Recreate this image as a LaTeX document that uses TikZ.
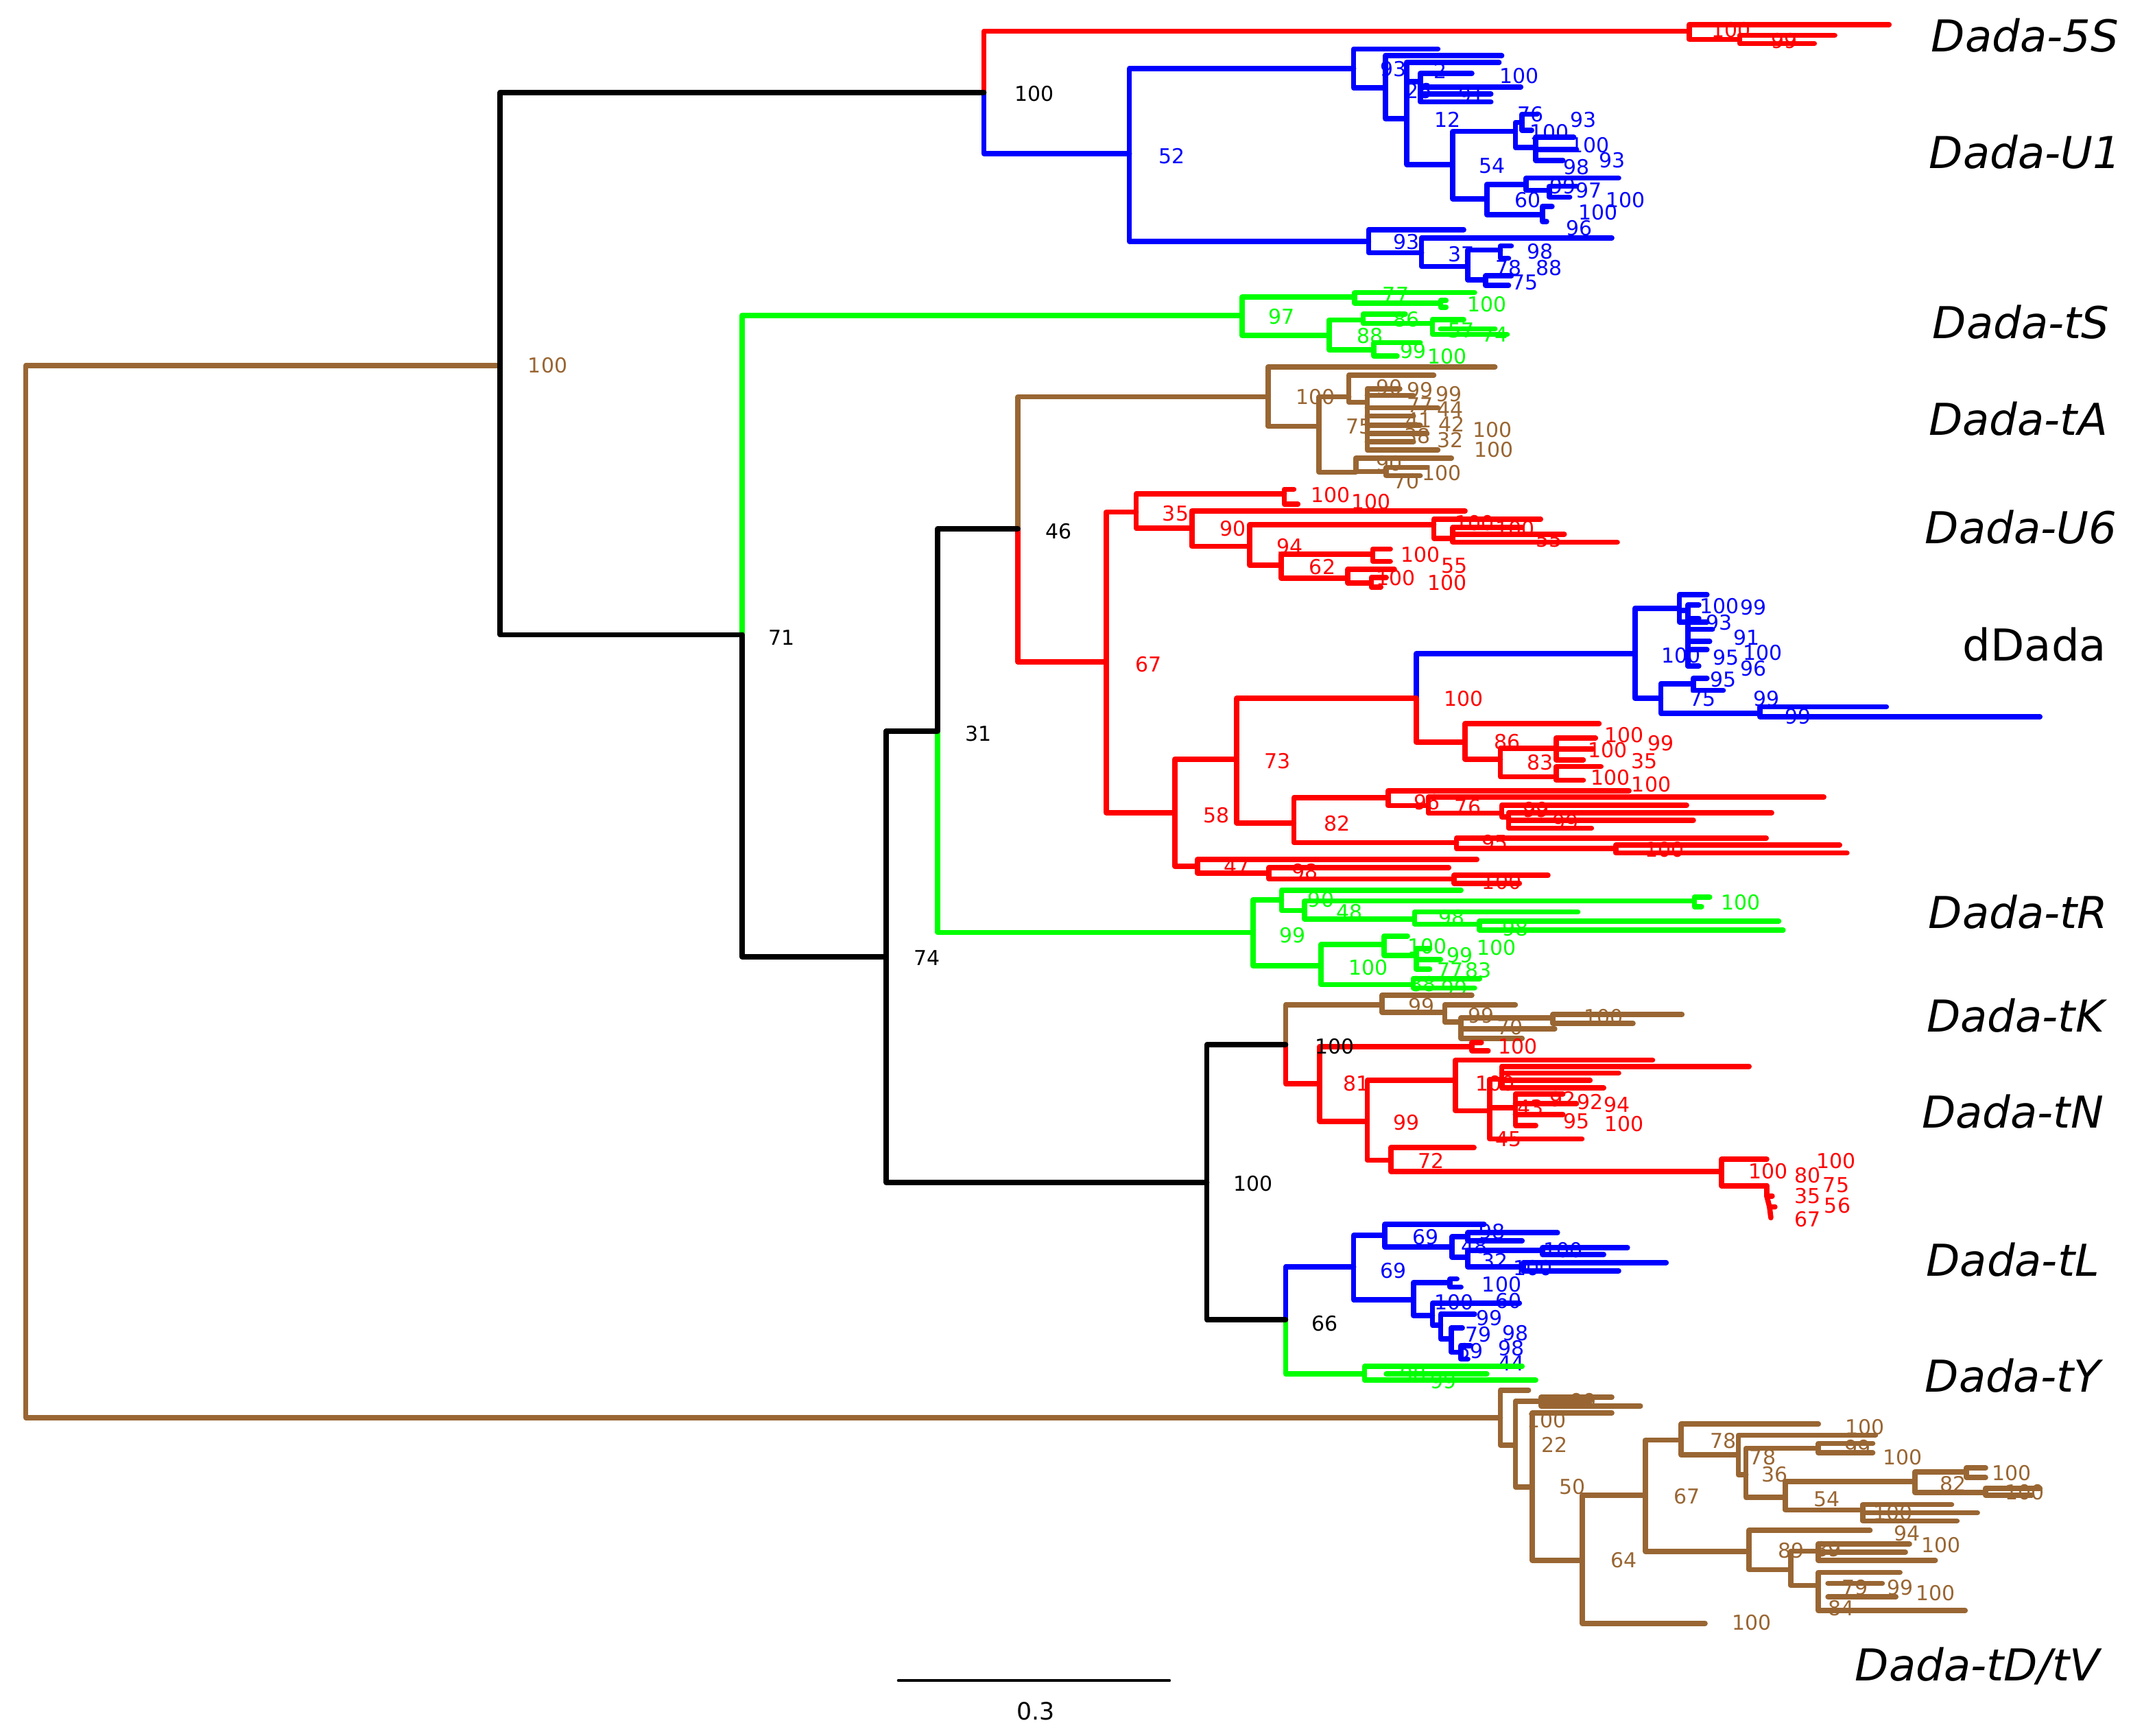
\documentclass[tikz,border=0pt]{standalone}
\usepackage{fontspec}
\setmainfont{DejaVu Sans}
\definecolor{tbr}{RGB}{153,102,51}
\definecolor{tgr}{RGB}{0,255,0}
\definecolor{tbl}{RGB}{0,0,255}
\definecolor{trd}{RGB}{255,0,0}
\newcounter{lbc}
\newcommand\bk[5]{\draw (#3,#2) -| (#1,#4) -- (#5,#4);}
\newcommand\hl[3]{\draw (#1,#2) -- (#3,#2);}
\newcommand\lb[3]{\stepcounter{lbc}\node[lbl] (lb\arabic{lbc}) at (#1,#2) {#3};}
\newcommand\cl[3]{\stepcounter{lbc}\node[clade] (cl\arabic{lbc}) at (#1,#2) {#3};}
\begin{document}
\begin{tikzpicture}[x=0.1mm,y=-0.1mm, line width=1.1pt, line join=round, line cap=round,
 lbl/.style={font=\fontsize{4.3}{5}\selectfont, inner sep=0pt},
 clade/.style={font=\fontsize{9.2}{11}\selectfont\itshape, inner sep=0pt, text=black}]
\useasboundingbox (0,0) rectangle (1568,1277);

% ---------- root (brown)
\begin{scope}[tbr]
\draw (368,269) -| (19,1043) -- (1104,1043);
\lb{403}{269}{100}
\end{scope}

% ---------- Dada-5S (red)
\begin{scope}[trd]
\draw (724,68) -- (724,23) -- (1243,23);
\bk{1243}{18}{1390}{29}{1280}
\bk{1280}{26}{1350}{32}{1335}
\lb{1274}{22}{100}
\lb{1313}{30}{99}
\end{scope}

% ---------- Dada-U1 (blue)
\begin{scope}[tbl]
\draw (724,68) |- (831,113);
\lb{862}{115}{52}
\bk{831}{50.5}{996}{177.6}{1007}
\bk{996}{36}{1058}{64.7}{1019.5}
\lb{1025}{51}{93}
\bk{1019.5}{41}{1105}{87.4}{1035}
\bk{1035}{46}{1103}{121}{1069}
\hl{1035}{60}{1045}
\bk{1045}{54}{1083}{75}{1097}
\hl{1045}{64}{1119}
\hl{1045}{69}{1097}
\lb{1118}{56}{100}
\lb{1044}{67}{26}
\lb{1060}{52}{2}
\lb{1083}{70}{91}
\lb{1065}{88}{12}
\bk{1069}{96.7}{1115}{146.4}{1094}
\lb{1098}{122}{54}
\bk{1115}{90}{1120}{108.5}{1130}
\bk{1120}{84}{1131}{96}{1127}
\bk{1130}{101}{1158}{118}{1150}
\hl{1130}{110}{1160}
\lb{1126}{84}{76}
\lb{1140}{97}{100}
\lb{1165}{88}{93}
\lb{1170}{107}{100}
\lb{1186}{118}{93}
\lb{1160}{123}{98}
\bk{1094}{135.7}{1123}{158}{1135}
\bk{1123}{131}{1191}{140}{1140}
\bk{1140}{137}{1160}{145}{1155}
\bk{1135}{152}{1142}{163}{1138}
\lb{1124}{147}{60}
\lb{1150}{137}{99}
\lb{1169}{140}{97}
\lb{1196}{147}{100}
\lb{1176}{156}{100}
\lb{1162}{168}{96}
\lb{1035}{178}{93}
\bk{1007}{169}{1077}{185.9}{1046}
\bk{1046}{175}{1186}{196}{1080}
\lb{1075}{187}{37}
\bk{1080}{184}{1104}{206}{1093}
\bk{1104}{181}{1112}{190}{1110}
\bk{1093}{203}{1112}{210}{1110}
\lb{1133}{185}{98}
\lb{1140}{197}{88}
\lb{1110}{197}{78}
\lb{1122}{208}{75}
\end{scope}

% ---------- Dada-tS (green)
\begin{scope}[tgr]
\draw (914,232) -| (546,467);
\lb{943}{233}{97}
\bk{914}{218.6}{996.7}{246.8}{978}
\bk{996.7}{215.3}{1085}{222.9}{1060}
\bk{1060}{221}{1064}{226}{1064}
\lb{1027}{217}{77}
\lb{1094}{224}{100}
\bk{978}{235.5}{1003}{257.4}{1011}
\lb{1008}{247}{88}
\bk{1003}{231}{1034}{238}{1054}
\lb{1035}{235}{86}
\bk{1054}{235}{1077}{246}{1109}
\hl{1060}{242}{1100}
\lb{1075}{243}{57}
\lb{1100}{246}{74}
\bk{1011}{252}{1045}{262}{1028}
\lb{1040}{258}{99}
\lb{1065}{262}{100}
\draw (690,538) |- (922,686);
\end{scope}

% ---------- Dada-tA (brown)
\begin{scope}[tbr]
\draw (933,292) -| (749,389);
\bk{933}{270}{1100}{313.7}{970.6}
\bk{970.6}{292}{992.5}{347.4}{997.6}
\lb{968}{292}{100}
\lb{1000}{314}{75}
\bk{992.5}{276}{1055}{296}{1006}
\bk{1006}{286}{1030}{331}{1058}
\hl{1006}{291}{1040}
\hl{1006}{300}{1058}
\hl{1006}{306}{1040}
\hl{1006}{313}{1045}
\hl{1006}{319}{1050}
\hl{1006}{325}{1040}
\lb{1022}{285}{90}
\lb{1045}{287}{99}
\lb{1066}{290}{99}
\lb{1045}{298}{77}
\lb{1067}{301}{44}
\lb{1044}{309}{41}
\lb{1068}{312}{42}
\lb{1043}{321}{38}
\lb{1067}{324}{32}
\lb{1098}{316}{100}
\lb{1099}{331}{100}
\bk{997.6}{337}{1068}{347}{1020}
\bk{1020}{344}{1050}{350}{1045}
\lb{1022}{341}{90}
\lb{1061}{348}{100}
\lb{1035}{354}{70}
\end{scope}

% ---------- Dada-U6 (red)
\begin{scope}[trd]
\draw (749,389) |- (814,487);
\lb{845}{489}{67}
\bk{814}{376.8}{836}{598}{864.5}
\bk{836}{363.4}{945}{388.6}{877}
\lb{865}{378}{35}
\bk{945}{360}{952}{371}{955}
\lb{979}{364}{100}
\lb{1009}{369}{100}
\bk{877}{375.9}{1078}{401.9}{919.6}
\lb{907}{389}{90}
\bk{919.6}{386}{1055}{416}{942.7}
\lb{949}{402}{94}
\bk{1055}{382}{1133.6}{396}{1069}
\bk{1069}{388}{1120}{399}{1190}
\hl{1069}{393}{1151}
\lb{1085}{385}{100}
\lb{1115}{389}{100}
\lb{1140}{397}{55}
\bk{942.7}{407.8}{1010}{425.4}{991.7}
\lb{973}{417}{62}
\bk{1010}{404}{1023}{413}{1023}
\lb{1045}{408}{100}
\lb{1070}{416}{55}
\bk{991.7}{419}{1026}{429}{1009}
\bk{1009}{425}{1020}{432}{1016}
\lb{1027}{425}{100}
\lb{1065}{429}{100}
\end{scope}

% ---------- dDada (blue)
\begin{scope}[tbl]
\draw (1203,481) -| (1042,513.8);
\bk{1203}{447.5}{1235.6}{513.8}{1222}
\bk{1235.6}{437.4}{1256}{457.6}{1256}
\draw (1235.6,449) -- (1242,449) -- (1242,490);
\bk{1242}{445}{1250}{455}{1250}
\bk{1242}{463}{1260}{472}{1258}
\bk{1242}{478}{1256}{490}{1250}
\lb{1237}{482}{100}
\lb{1265}{446}{100}
\lb{1290}{447}{99}
\lb{1265}{458}{93}
\lb{1285}{469}{91}
\lb{1297}{480}{100}
\lb{1270}{484}{95}
\lb{1290}{492}{96}
\bk{1222}{503}{1246}{524.8}{1295}
\bk{1246}{499}{1256}{508}{1268}
\lb{1253}{514}{75}
\lb{1268}{500}{95}
\lb{1300}{514}{99}
\bk{1295}{520}{1388}{527.4}{1501}
\lb{1323}{527}{99}
\end{scope}

% ---------- red clade with dDada
\begin{scope}[trd]
\bk{864.5}{558.5}{910}{637.5}{881}
\lb{895}{600}{58}
\bk{910}{513.8}{1042}{605.6}{952}
\lb{940}{560}{73}
\draw (1042,513.8) |- (1078,546);
\lb{1077}{514}{100}
\bk{1078}{532.4}{1176.6}{558.5}{1104}
\lb{1109}{546}{86}
\bk{1104}{550.6}{1145}{571.6}{1145}
\lb{1133}{561}{83}
\bk{1145}{543}{1174}{559}{1165}
\hl{1145}{551}{1172}
\lb{1195}{541}{100}
\lb{1222}{547}{99}
\lb{1183}{552}{100}
\lb{1210}{560}{35}
\bk{1145}{564}{1178}{574}{1165}
\lb{1185}{572}{100}
\lb{1215}{577}{100}
\bk{952}{587}{1021.5}{620}{1071.7}
\lb{984}{606}{82}
\bk{1021.5}{581.8}{1198.6}{592.7}{1051}
\bk{1051}{586.5}{1342}{598.3}{1105}
\lb{1050}{590}{96}
\lb{1080}{594}{76}
\bk{1105}{592.5}{1241}{601}{1110}
\bk{1110}{598}{1303.6}{609.3}{1171}
\hl{1110}{603.5}{1246}
\lb{1130}{596}{99}
\lb{1152}{605}{99}
\bk{1071.7}{616.7}{1299.6}{624.3}{1189}
\lb{1100}{620}{95}
\bk{1189}{621.7}{1353.6}{627.6}{1359}
\lb{1225}{625}{100}
\bk{881}{632.4}{1086.7}{642.5}{933.7}
\lb{910}{637}{47}
\bk{933.7}{638.3}{1066}{646.7}{1070}
\lb{960}{641}{98}
\bk{1070}{644}{1139}{650}{1118}
\lb{1105}{649}{100}
\end{scope}

% ---------- Dada-tR (green)
\begin{scope}[tgr]
\bk{922}{662}{943}{710.6}{972}
\lb{951}{688}{99}
\bk{943}{655}{1075}{670}{960}
\lb{972}{662}{90}
\lb{993}{671}{48}
\bk{960}{662.8}{1246.7}{676.3}{1040.8}
\bk{1246.7}{660}{1258}{667}{1252}
\lb{1281}{664}{100}
\bk{1040.8}{671}{1161}{680}{1088.7}
\lb{1068}{675}{98}
\bk{1088.7}{677.7}{1308.8}{684.4}{1312}
\lb{1115}{683}{98}
\bk{972}{695}{1018.5}{724.4}{1039.8}
\lb{1007}{712}{100}
\bk{1018.5}{688.7}{1035.6}{703}{1042}
\bk{1042}{698}{1052}{713}{1052}
\hl{1042}{706}{1060}
\lb{1050}{696}{100}
\lb{1101}{697}{100}
\lb{1074}{703}{99}
\lb{1067}{714}{77}
\lb{1088}{714}{83}
\bk{1039.8}{720}{1088.7}{727}{1085}
\lb{1047}{724}{88}
\lb{1070}{727}{99}
\end{scope}

% ---------- Dada-tK (brown)
\begin{scope}[tbr]
\draw (1017,739.3) -| (946,768.7);
\bk{1017}{732.2}{1083}{744.8}{1063}
\lb{1046}{740}{99}
\bk{1063}{739.4}{1115}{751.9}{1075}
\bk{1075}{749}{1142.5}{764}{1120}
\hl{1075}{757}{1144}
\lb{1090}{747}{99}
\lb{1111}{756}{70}
\bk{1142.5}{746.4}{1237.6}{753}{1201.6}
\lb{1180}{748}{100}
\end{scope}

% ---------- Dada-tN (red)
\begin{scope}[trd]
\draw (946,768.7) |- (971,797.4);
\bk{971}{770}{1083}{825}{1006}
\lb{998}{797}{81}
\bk{1083}{767}{1090}{773}{1095}
\lb{1117}{770}{100}
\bk{1006}{795}{1071}{853.6}{1023.5}
\lb{1035}{826}{99}
\bk{1071}{780}{1216}{817.3}{1096}
\bk{1096}{794}{1105}{838}{1164}
\lb{1100}{797}{100}
\lb{1110}{838}{45}
\bk{1105}{784.6}{1287}{800.5}{1180}
\hl{1105}{789.6}{1191}
\hl{1105}{795}{1170}
\hl{1096}{815}{1115}
\bk{1115}{805}{1150}{828}{1130}
\hl{1115}{812}{1160}
\hl{1115}{820}{1150}
\lb{1126}{815}{43}
\lb{1150}{809}{92}
\lb{1170}{811}{92}
\lb{1190}{813}{94}
\lb{1160}{825}{95}
\lb{1195}{827}{100}
\bk{1023.5}{844.4}{1084.6}{861.9}{1266.7}
\lb{1053}{854}{72}
\bk{1266.7}{853}{1300}{872.4}{1300}
\draw (1300,872.4) -- (1300,880) -- (1304,880);
\draw (1300,880) -- (1302,888) -- (1306,888);
\draw (1302,888) -- (1303,896);
\lb{1301}{862}{100}
\lb{1351}{854}{100}
\lb{1330}{865}{80}
\lb{1351}{872}{75}
\lb{1330}{880}{35}
\lb{1352}{887}{56}
\lb{1330}{897}{67}
\end{scope}

% ---------- Dada-tL (blue)
\begin{scope}[tbl]
\draw (996,932) -| (946,971);
\bk{996}{909}{1019}{956.4}{1040}
\lb{1025}{935}{69}
\bk{1019}{900.8}{1092}{917.6}{1068.5}
\lb{1049}{910}{69}
\bk{1068.5}{910}{1080}{925}{1080}
\bk{1080}{907}{1146}{913}{1120}
\bk{1080}{920}{1135}{932}{1121}
\bk{1135}{918}{1197.5}{923}{1180}
\bk{1121}{929}{1226}{935}{1191}
\lb{1085}{917}{48}
\lb{1098}{906}{98}
\lb{1100}{928}{32}
\lb{1150}{920}{100}
\lb{1128}{933}{100}
\bk{1040}{943.7}{1067}{968}{1054}
\bk{1067}{941}{1072}{947}{1075}
\lb{1070}{958}{100}
\lb{1105}{945}{100}
\lb{1110}{957}{60}
\bk{1054}{959}{1118}{975}{1060}
\bk{1060}{967}{1085}{985}{1068}
\bk{1068}{977}{1076}{995}{1075}
\bk{1075}{990}{1082}{1000}{1080}
\lb{1096}{970}{99}
\lb{1088}{982}{79}
\lb{1082}{994}{69}
\lb{1115}{981}{98}
\lb{1112}{992}{98}
\lb{1112}{1003}{44}
\end{scope}

% ---------- Dada-tY (green)
\begin{scope}[tgr]
\draw (946,971) |- (1004,1011);
\bk{1004}{1005.4}{1120}{1015.5}{1130}
\hl{1020}{1011}{1094}
\lb{1040}{1011}{98}
\lb{1062}{1016}{99}
\end{scope}

% ---------- Dada-tD/tV (brown)
\begin{scope}[tbr]
\bk{1104}{1022.8}{1124.7}{1063.2}{1115}
\bk{1115}{1031}{1134}{1094}{1127.5}
\lb{1144}{1063}{22}
\bk{1134}{1028}{1186}{1034.5}{1207}
\hl{1134}{1031}{1170}
\lb{1165}{1031}{99}
\bk{1127.5}{1039.6}{1186}{1148}{1164.3}
\lb{1138}{1045}{100}
\lb{1157}{1094}{50}
\bk{1164.3}{1100}{1210.7}{1194.4}{1254.6}
\lb{1195}{1148}{64}
\lb{1289}{1194}{100}
\bk{1210.7}{1059.6}{1237}{1141.4}{1287}
\lb{1241}{1101}{67}
\bk{1237}{1047.8}{1338}{1070.5}{1279}
\lb{1268}{1060}{78}
\lb{1372}{1050}{100}
\bk{1279}{1056}{1380}{1085}{1284.7}
\bk{1284.7}{1065.6}{1338}{1101.8}{1313.5}
\lb{1297}{1072}{78}
\lb{1306}{1085}{36}
\bk{1338}{1062}{1378}{1069}{1378}
\lb{1367}{1065}{99}
\lb{1400}{1072}{100}
\bk{1313.5}{1090}{1409}{1111}{1370.6}
\lb{1344}{1103}{54}
\bk{1409}{1083}{1447}{1098}{1461}
\lb{1437}{1092}{82}
\bk{1447}{1080}{1461}{1087}{1461}
\lb{1480}{1084}{100}
\bk{1461}{1095}{1501}{1100}{1495}
\lb{1490}{1098}{100}
\bk{1370.6}{1107}{1436}{1119}{1440}
\hl{1370.6}{1113}{1455}
\lb{1393}{1113}{100}
\bk{1287}{1126}{1376}{1155}{1317.7}
\lb{1403}{1128}{94}
\lb{1318}{1141}{89}
\bk{1317.7}{1141.3}{1338}{1166.5}{1338}
\bk{1338}{1136}{1405}{1148}{1424}
\hl{1338}{1142}{1402}
\lb{1428}{1137}{100}
\lb{1345}{1140}{89}
\bk{1338}{1157}{1398}{1185}{1446}
\hl{1345}{1165}{1385}
\hl{1345}{1175}{1395}
\lb{1365}{1168}{79}
\lb{1398}{1168}{99}
\lb{1424}{1172}{100}
\lb{1355}{1183}{84}
\end{scope}

% ---------- backbone (black)
\begin{scope}[black]
\draw (724,68) -| (368,467) -- (546,467);
\draw (546,467) |- (652,704);
\draw (749,389) -| (690,538) -- (652,538);
\draw (652,538) |- (888,870);
\draw (946,768.7) -| (888,971) -- (946,971);
\lb{761}{69}{100}
\lb{575}{469}{71}
\lb{779}{391}{46}
\lb{720}{540}{31}
\lb{682}{705}{74}
\lb{922}{871}{100}
\lb{982}{770}{100}
\lb{975}{974}{66}
\end{scope}

% ---------- clade names
\cl{1490}{26}{Dada-5S}
\cl{1490}{112}{Dada-U1}
\cl{1487}{237}{Dada-tS}
\cl{1485}{308}{Dada-tA}
\cl{1487}{388}{Dada-U6}
\node[clade, font=\fontsize{9.2}{11}\selectfont] (dd) at (1497,474) {dDada};
\cl{1485}{671}{Dada-tR}
\cl{1483}{747}{Dada-tK}
\cl{1481}{818}{Dada-tN}
\cl{1481}{927}{Dada-tL}
\cl{1481}{1012}{Dada-tY}
\cl{1455}{1226}{Dada-tD/tV}

% ---------- scale bar
\coordinate (sb1) at (661,1236.5);
\coordinate (sb2) at (860.5,1236.5);
\draw[line width=0.6pt] (sb1) -- (sb2);
\node[font=\fontsize{5}{6}\selectfont, inner sep=0pt] (sbl) at (762,1259) {0.3};
\end{tikzpicture}
\end{document}
